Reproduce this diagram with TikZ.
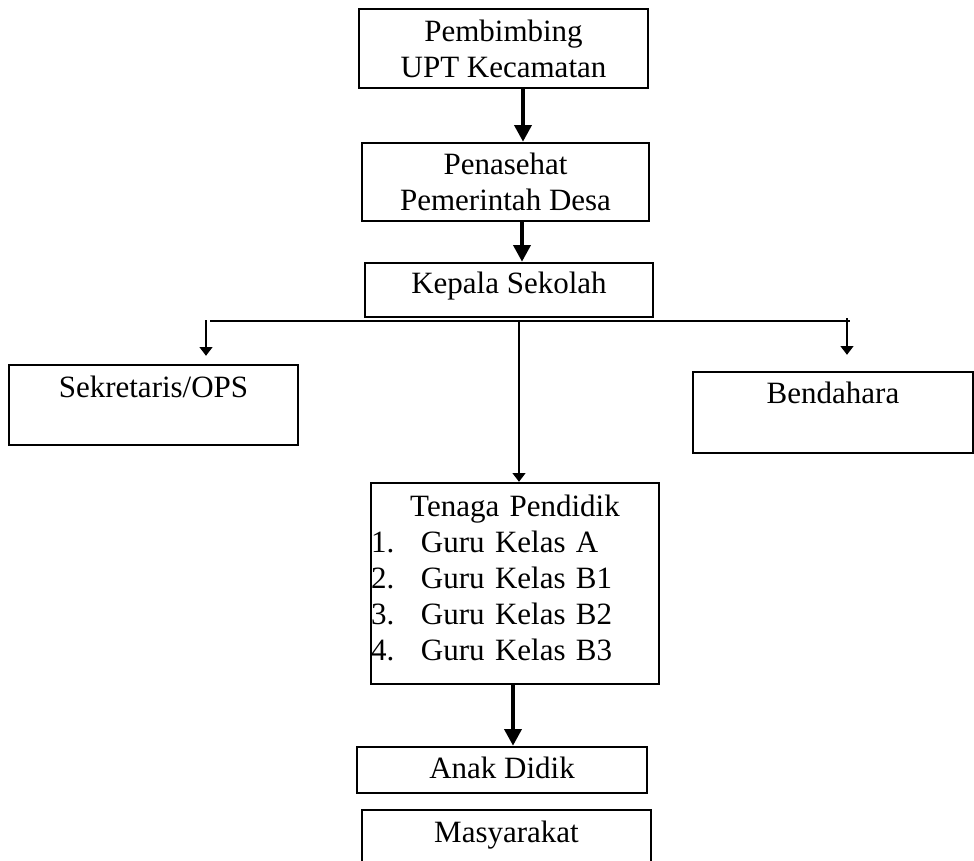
\documentclass[tikz,border=0pt]{standalone}
\usepackage{fontspec}
\setmainfont{Liberation Serif}
\usepackage{tikz}
\usetikzlibrary{positioning,arrows.meta}

\begin{document}
\begin{tikzpicture}[auto, node distance=2cm,
    box node/.style={rectangle,draw,line width=1.7pt,inner sep=0pt,
      font=\fontsize{22.05}{25.6}\selectfont,align=center},
    bold arrow/.style={line width=3.2pt,-{Triangle[width=0.42cm,length=0.42cm]}},
    thin arrow/.style={line width=1.4pt,-{Triangle[width=0.32cm,length=0.22cm]}}]

    \useasboundingbox (0,0) rectangle (24.35,-21.525);
    \clip (0,0) rectangle (24.35,-21.525);

    \node[box node,minimum width=7.225cm,minimum height=1.975cm] (pembimbing) at (12.5875,-1.2125) {Pembimbing\\UPT Kecamatan};
    \node[box node,node distance=3.3375cm,minimum width=7.175cm,minimum height=1.95cm] (penasehat) [below of=pembimbing,xshift=0.05cm] {Penasehat\\Pemerintah Desa};
    \node[box node,node distance=2.7cm,minimum width=7.2cm,minimum height=1.35cm,text height=0.55cm,text depth=0.4cm] (kepala) [below of=penasehat,xshift=0.0875cm] {Kepala Sekolah};
    \node[box node,node distance=7.3375cm,minimum width=7.2cm,minimum height=5.025cm,text width=7.2cm,align=left] (tenaga) [below of=kepala,xshift=0.15cm]
      {\makebox[7.2cm]{Tenaga Pendidik}\\
       \makebox[1.25cm][l]{1.}Guru Kelas A\\
       \makebox[1.25cm][l]{2.}Guru Kelas B1\\
       \makebox[1.25cm][l]{3.}Guru Kelas B2\\
       \makebox[1.25cm][l]{4.}Guru Kelas B3\strut};
    \node[box node,node distance=4.6625cm,minimum width=7.25cm,minimum height=1.15cm,text height=0.55cm,text depth=0.15cm] (anak) [below of=tenaga,xshift=-0.325cm] {Anak Didik};
    \node[box node,node distance=1.875cm,minimum width=7.225cm,minimum height=1.75cm,text height=0.55cm,text depth=0.7cm] (masyarakat) [below of=anak,xshift=0.1125cm] {Masyarakat};

    \node[box node,minimum width=7.225cm,minimum height=2cm,text height=0.55cm,text depth=0.95cm] (sekretaris) at (3.8375,-10.125) {Sekretaris/OPS};
    \node[box node,minimum width=7cm,minimum height=2.025cm,text height=0.55cm,text depth=1.025cm] (bendahara) at (20.825,-10.3125) {Bendahara};

    % garis cabang di bawah kepala sekolah
    \coordinate (busL) at (5.25,-8.025);
    \coordinate (busR) at (21.25,-8.025);
    \coordinate (tapL) at (5.15,-8.0);
    \coordinate (tapM) at (12.975,-8.025);
    \coordinate (tapR) at (21.175,-7.95);

    \draw[bold arrow] ([xshift=0.4875cm]pembimbing.south) -- ([xshift=0.4875cm]pembimbing.south |- penasehat.north);
    \draw[bold arrow] ([xshift=0.4125cm]penasehat.south) -- ([xshift=0.4125cm]penasehat.south |- kepala.north);
    \draw[line width=1.4pt] (busL) -- (busR);
    \draw[thin arrow] (tapL) -- ([yshift=0.2cm]tapL |- sekretaris.north);
    \draw[thin arrow] (tapR) -- ([yshift=0.4cm]tapR |- bendahara.north);
    \draw[thin arrow] (tapM) -- (tapM |- tenaga.north);
    \draw[bold arrow] ([xshift=-0.05cm]tenaga.south) -- ([xshift=-0.05cm]tenaga.south |- anak.north);
\end{tikzpicture}
\end{document}
